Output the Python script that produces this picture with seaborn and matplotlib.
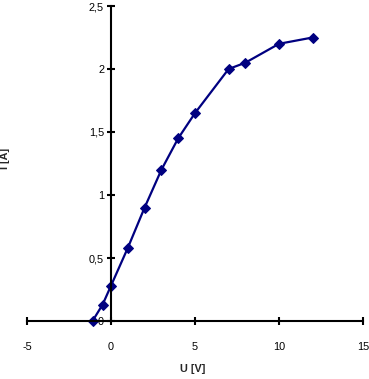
import matplotlib
matplotlib.use("Agg")
import matplotlib.pyplot as plt
import seaborn as sns
import pandas as pd
from matplotlib.ticker import FuncFormatter

U = [-1.1, -0.5, 0, 1, 2, 3, 4, 5, 7, 8, 10, 12]
I = [0.0, 0.13, 0.28, 0.58, 0.9, 1.2, 1.45, 1.65, 2.0, 2.05, 2.2, 2.25]
xticks = [-5, 0, 5, 10, 15]
yticks = [0, 0.5, 1, 1.5, 2, 2.5]

sns.set_theme(style="white")
plt.rcParams['font.family'] = ['Liberation Sans', 'DejaVu Sans']

df = pd.DataFrame({"U": U, "I": I})
fig = plt.figure(figsize=(3.69, 3.79), dpi=100)
ax = fig.add_axes([27/369, 1-321/379, (363-27)/369, (321-6)/379])
sns.lineplot(data=df, x="U", y="I", ax=ax, color="#000080", marker="D",
             markersize=5, markeredgecolor="#000080", linewidth=1.6,
             clip_on=False, sort=False)
ax.set_xlim(-5, 15)
ax.set_ylim(0, 2.5)
ax.spines['left'].set_position(('data', 0))
ax.spines['bottom'].set_position(('data', 0))
ax.spines['right'].set_visible(False)
ax.spines['top'].set_visible(False)
for s in ['left', 'bottom']:
    ax.spines[s].set_color('black')
    ax.spines[s].set_linewidth(1.5)
ax.set_xticks(xticks)
ax.set_yticks(yticks)
fmt = FuncFormatter(lambda v, p: ('%g' % v).replace('.', ','))
ax.xaxis.set_major_formatter(fmt)
ax.yaxis.set_major_formatter(fmt)
ax.tick_params(axis='both', direction='inout', length=6, width=1.5, color='black',
               labelsize=7.8, labelcolor='black', bottom=True, left=True)
ax.tick_params(axis='x', pad=12)
ax.tick_params(axis='y', pad=2)
ax.set_xlabel("")
ax.set_ylabel("")
fig.text(193/369, 1-369/379, "U [V]", ha='center', va='center', fontsize=7.8, fontweight='bold')
fig.text(5/369, 1-158/379, "I [A]", ha='center', va='center', fontsize=7.8, fontweight='bold', rotation=90)
ax.grid(False)
fig.savefig("out.png", dpi=100)
